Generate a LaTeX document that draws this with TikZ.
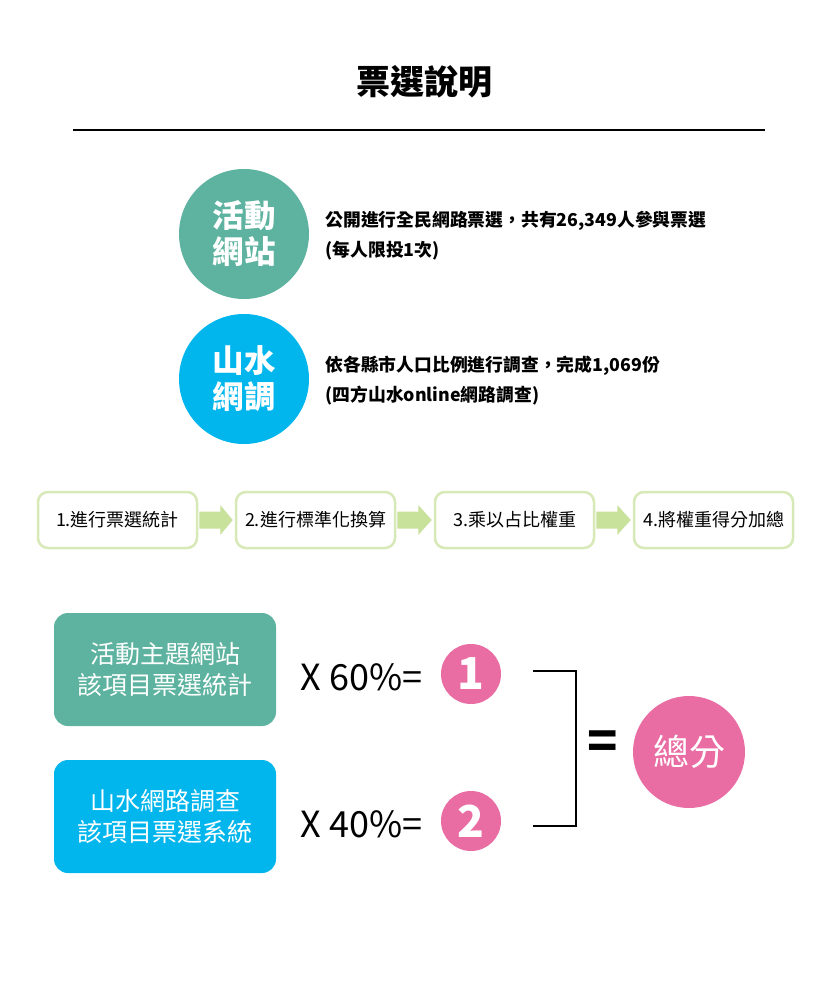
\documentclass[tikz,border=0pt]{standalone}
\usepackage{fontspec}
\setmainfont{Noto Sans CJK TC}
\usetikzlibrary{calc}
\definecolor{teal1}{HTML}{5DB39F}
\definecolor{cyan1}{HTML}{00B6ED}
\definecolor{pink1}{HTML}{E96CA3}
\definecolor{gborder}{HTML}{D6E9B6}
\definecolor{garrow}{HTML}{C8E19B}
\tikzset{
  bigcirc/.style={circle, fill=#1, minimum size=130pt, inner sep=0pt, align=center, text=white,
    font=\bfseries\fontsize{31.5}{36}\selectfont},
  desc/.style={anchor=west, align=left, font=\bfseries\fontsize{17.8}{30}\selectfont},
  stepbox/.style={draw=gborder, line width=2.5pt, fill=white, rounded corners=10pt,
    minimum width=159pt, minimum height=56pt, inner sep=0pt, font=\fontsize{18}{20}\selectfont},
  srcbox/.style={fill=#1, rounded corners=14pt, minimum width=222pt, minimum height=113pt,
    align=center, text=white, font=\fontsize{25}{31}\selectfont},
  formula/.style={anchor=west, font=\fontsize{36}{40}\selectfont},
  numcirc/.style={circle, fill=pink1, minimum size=60pt, inner sep=0pt, text=white,
    font=\bfseries\fontsize{44}{44}\selectfont},
}
\begin{document}
\begin{tikzpicture}[x=1pt,y=-1pt]
\useasboundingbox (0,0) rectangle (830,1000);
% title
\node[font=\bfseries\fontsize{34}{36}\selectfont] (title) at (424,82) {票選說明};
\coordinate (rl) at (73,130);
\coordinate (rr) at (765,130);
\draw[line width=2pt] (rl) -- (rr);
% top circles
\node[bigcirc=teal1] (c1) at (244,234) {活動\\網站};
\node[bigcirc=cyan1] (c2) at (244,379) {山水\\網調};
\node[desc] (d1) at (322,236) {公開進行全民網路票選，共有26,349人參與票選\\(每人限投1次)};
\node[desc] (d2) at (322,381) {依各縣市人口比例進行調查，完成1,069份\\(四方山水online網路調查)};
% steps
\node[stepbox] (s1) at (117.5,520) {1.進行票選統計};
\node[stepbox] (s2) at (315.5,520) {2.進行標準化換算};
\node[stepbox] (s3) at (514.5,520) {3.乘以占比權重};
\node[stepbox] (s4) at (713.5,520) {4.將權重得分加總};
\foreach \a/\b in {s1/s2,s2/s3,s3/s4}{
  \fill[garrow] ($(\a.east)+(1.2,-8.5)$) -- ($(\a.east)+(22,-8.5)$) -- ($(\a.east)+(22,-15)$)
    -- ($(\b.west)+(-2,0)$) -- ($(\a.east)+(22,15)$) -- ($(\a.east)+(22,8.5)$)
    -- ($(\a.east)+(1.2,8.5)$) -- cycle;
}
% bottom
\node[srcbox=teal1] (t1) at (165,669.5) {活動主題網站\\該項目票選統計};
\node[srcbox=cyan1] (t2) at (165,816.5) {山水網路調查\\該項目票選系統};
\node[formula] (f1) at (297,677) {X 60\%=};
\node[formula] (f2) at (297,824) {X 40\%=};
\node[numcirc] (n1) at (471,674) {1};
\node[numcirc] (n2) at (471,821) {2};
\coordinate (bt1) at (533,671);
\coordinate (bt2) at (576,671);
\coordinate (bb2) at (576,826);
\coordinate (bb1) at (533,826);
\draw[line width=2pt] (bt1) -- (bt2) -- (bb2) -- (bb1);
\node[font=\bfseries\fontsize{50}{50}\selectfont] (eq) at (603,745) {=};
\node[circle, fill=pink1, minimum size=112pt, inner sep=0pt, text=white,
  font=\fontsize{36}{36}\selectfont] (tot) at (689,752) {總分};
\end{tikzpicture}
\end{document}
